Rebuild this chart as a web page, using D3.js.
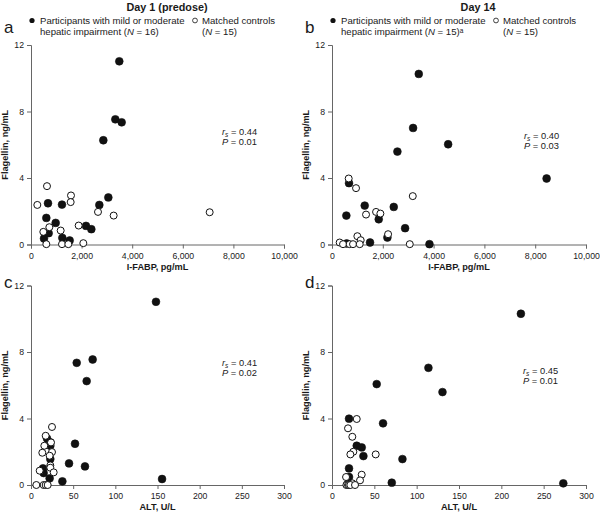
<!DOCTYPE html>
<html><head><meta charset="utf-8">
<script src="https://cdn.jsdelivr.net/npm/d3@7"></script>
<style>body{margin:0;background:#fff;} svg{display:block;font-family:"Liberation Sans",Arial,sans-serif;}</style>
</head><body>
<svg id="chart" width="600" height="512"></svg>
<script>
// ---- data ----
const panelLetters = ["a", "b", "c", "d"];
const dayTitles = ["Day 1 (predose)", "Day 14"];
const legendPatientLabels = ["hepatic impairment (N = 16)", "hepatic impairment (N = 15)ᵃ"];
const xTitles = ["I-FABP, pg/mL", "I-FABP, pg/mL", "ALT, U/L", "ALT, U/L"];
const yTitle = "Flagellin, ng/mL";
const yTicks = [0, 4, 8, 12];
const fabpTicks = [0, 2000, 4000, 6000, 8000, 10000];
const altTicks = [0, 50, 100, 150, 200, 250, 300];
const rsValues = ["0.44", "0.40", "0.41", "0.45"];
const pValues = ["0.01", "0.03", "0.02", "0.01"];

// Panel a: Day 1, I-FABP vs flagellin
const aPatients = [[3490,11.02],[3333,7.53],[3584,7.35],[2859,6.27],[3057,2.83],[2701,2.38],[1225,2.40],[672,2.48],[606,1.60],[975,1.30],[2174,1.12],[2385,0.92],[698,0.68],[514,0.36],[1238,0.40],[1528,0.24]];
const aControls = [[632,3.51],[1581,2.95],[1568,2.55],[250,2.38],[2648,1.96],[3267,1.74],[7062,1.94],[1884,1.14],[725,1.04],[1173,0.84],[487,0.76],[606,0.02],[1225,0.02],[1476,0.02],[2068,0.08]];
// Panel b: Day 14, I-FABP vs flagellin
const bPatients = [[3416,10.26],[3193,7.01],[4573,6.03],[2575,5.59],[8449,3.97],[670,3.69],[1288,2.34],[2431,2.26],[565,1.74],[1840,1.52],[2878,0.98],[2181,0.42],[578,0.06],[1498,0.12],[3837,0.02]];
const bControls = [[657,3.97],[946,3.39],[3180,2.91],[1735,1.96],[1905,1.86],[1340,1.80],[999,0.50],[2208,0.62],[1130,0.26],[302,0.12],[434,0.02],[696,0.02],[828,0.02],[1091,0.02],[3062,0.02]];
// Panel c: Day 1, ALT vs flagellin
const cPatients = [[148.2,11.02],[73.1,7.55],[54.2,7.35],[66.0,6.25],[52.2,2.48],[45.1,1.30],[64.0,1.12],[37.2,0.22],[155.4,0.36],[22.9,2.56],[22.9,2.36],[22.9,1.56],[14.2,1.00],[15.0,0.72],[22.1,0.40],[19.0,2.80]];
const cControls = [[24.9,3.49],[17.4,2.96],[23.7,2.56],[15.8,2.36],[24.9,1.98],[13.4,1.94],[22.1,1.76],[22.9,1.18],[22.9,1.04],[10.3,0.86],[26.9,0.76],[6.3,0],[15.0,0],[17.4,0],[19.8,0]];
// Panel d: Day 14, ALT vs flagellin
const dPatients = [[223.1,10.30],[113.9,7.05],[130.5,5.59],[52.8,6.07],[60.3,3.71],[20.1,3.99],[29.2,2.36],[35.1,2.26],[37.1,1.74],[83.2,1.56],[20.1,1.00],[20.1,0.48],[70.6,0.14],[273.2,0.10],[18.1,0.04]];
const dControls = [[29.2,3.97],[18.9,3.41],[24.0,2.90],[25.2,2.00],[21.7,1.84],[51.6,1.84],[35.1,0.62],[33.1,0.28],[16.6,0.48],[24.0,0.10],[17.0,0],[18.9,0],[20.1,0],[21.7,0],[27.2,0]];

// ---- layout ----
const svg = d3.select("#chart");
const textCol = "#1a1a1a", axisCol = "#666";
const cols = [{x0: 31, x1: 284}, {x0: 332, x1: 586}];
const rows = [{y0: 244.5, y1: 45}, {y0: 485, y1: 285.5}];

const panels = [
  {letter: panelLetters[0], col: 0, row: 0, dom: [0, 10000], ticks: fabpTicks, pat: aPatients, ctl: aControls, stat: [222, 135]},
  {letter: panelLetters[1], col: 1, row: 0, dom: [0, 10000], ticks: fabpTicks, pat: bPatients, ctl: bControls, stat: [524, 139]},
  {letter: panelLetters[2], col: 0, row: 1, dom: [0, 300], ticks: altTicks, pat: cPatients, ctl: cControls, stat: [222, 366]},
  {letter: panelLetters[3], col: 1, row: 1, dom: [0, 300], ticks: altTicks, pat: dPatients, ctl: dControls, stat: [523, 374]}
];

panels.forEach((p, i) => {
  const c = cols[p.col], r = rows[p.row];
  const x = d3.scaleLinear().domain(p.dom).range([c.x0, c.x1]);
  const y = d3.scaleLinear().domain([0, 12]).range([r.y0, r.y1]);
  const g = svg.append("g");

  const xa = g.append("g").attr("transform", `translate(0,${r.y0})`)
    .call(d3.axisBottom(x).tickValues(p.ticks).tickSize(4).tickPadding(4).tickFormat(d3.format(",")));
  const ya = g.append("g").attr("transform", `translate(${c.x0},0)`)
    .call(d3.axisLeft(y).tickValues(yTicks).tickSize(4).tickPadding(3));
  [xa, ya].forEach(a => {
    a.select(".domain").attr("stroke", axisCol).attr("stroke-width", 1);
    a.selectAll(".tick line").attr("stroke", axisCol);
    a.selectAll(".tick text").attr("fill", textCol).style("font-size", "8.7px").style("font-family", "Liberation Sans, Arial, sans-serif");
  });

  // axis titles
  g.append("text").attr("x", (c.x0 + c.x1) / 2).attr("y", r.y0 + 25)
    .attr("text-anchor", "middle").attr("font-weight", "bold").attr("font-size", 9.2).attr("fill", textCol)
    .text(xTitles[i]);
  g.append("text").attr("transform", `translate(${c.x0 - 23},${(r.y0 + r.y1) / 2}) rotate(-90)`)
    .attr("text-anchor", "middle").attr("font-weight", "bold").attr("font-size", 9.2).attr("fill", textCol)
    .text(yTitle);

  // panel letter
  g.append("text").attr("x", c.x0 - 27).attr("y", p.row === 0 ? 33 : 288)
    .attr("font-size", 17).attr("fill", textCol).text(p.letter);

  // points
  g.selectAll(".pat").data(p.pat).join("circle")
    .attr("cx", d => x(d[0])).attr("cy", d => y(d[1])).attr("r", 3.9)
    .attr("fill", "#111").attr("stroke", "#111").attr("stroke-width", 0.6);
  g.selectAll(".ctl").data(p.ctl).join("circle")
    .attr("cx", d => x(d[0])).attr("cy", d => y(d[1])).attr("r", 3.5)
    .attr("fill", "#fff").attr("stroke", "#111").attr("stroke-width", 1);

  // stats
  const st = g.append("text").attr("x", p.stat[0]).attr("y", p.stat[1]).attr("font-size", 9.3).attr("fill", textCol);
  st.append("tspan").attr("font-style", "italic").text("r");
  st.append("tspan").attr("font-style", "italic").attr("font-size", 6.5).attr("dy", 2).text("s");
  st.append("tspan").attr("dy", -2).text(" = " + rsValues[i]);
  const pt = g.append("text").attr("x", p.stat[0]).attr("y", p.stat[1] + 10).attr("font-size", 9.3).attr("fill", textCol);
  pt.append("tspan").attr("font-style", "italic").text("P");
  pt.append("tspan").text(" = " + pValues[i]);
});

// titles and legends
cols.forEach((c, j) => {
  svg.append("text").attr("x", j === 0 ? 167 : 478).attr("y", 11).attr("text-anchor", "middle")
    .attr("font-weight", "bold").attr("font-size", 10.8).attr("fill", textCol).text(dayTitles[j]);
  const lx = c.x0 + 1;
  svg.append("circle").attr("cx", lx).attr("cy", 20.5).attr("r", 2.6).attr("fill", "#111");
  const t1 = svg.append("text").attr("x", lx + 8).attr("y", 24).attr("font-size", 9.6).attr("fill", textCol);
  t1.append("tspan").text("Participants with mild or moderate");
  const t2 = svg.append("text").attr("x", lx + 8).attr("y", 35).attr("font-size", 9.6).attr("fill", textCol);
  const lbl = legendPatientLabels[j];
  t2.append("tspan").text("hepatic impairment (");
  t2.append("tspan").attr("font-style", "italic").text("N");
  t2.append("tspan").text(lbl.slice(lbl.indexOf("N") + 1));
  const ox = c.x0 + 164;
  svg.append("circle").attr("cx", ox).attr("cy", 20.5).attr("r", 2.4).attr("fill", "#fff").attr("stroke", "#111").attr("stroke-width", 0.8);
  svg.append("text").attr("x", ox + 7).attr("y", 24).attr("font-size", 9.6).attr("fill", textCol).text("Matched controls");
  const t4 = svg.append("text").attr("x", ox + 7).attr("y", 35).attr("font-size", 9.6).attr("fill", textCol);
  t4.append("tspan").text("(");
  t4.append("tspan").attr("font-style", "italic").text("N");
  t4.append("tspan").text(" = 15)");
});
</script>
</body></html>
